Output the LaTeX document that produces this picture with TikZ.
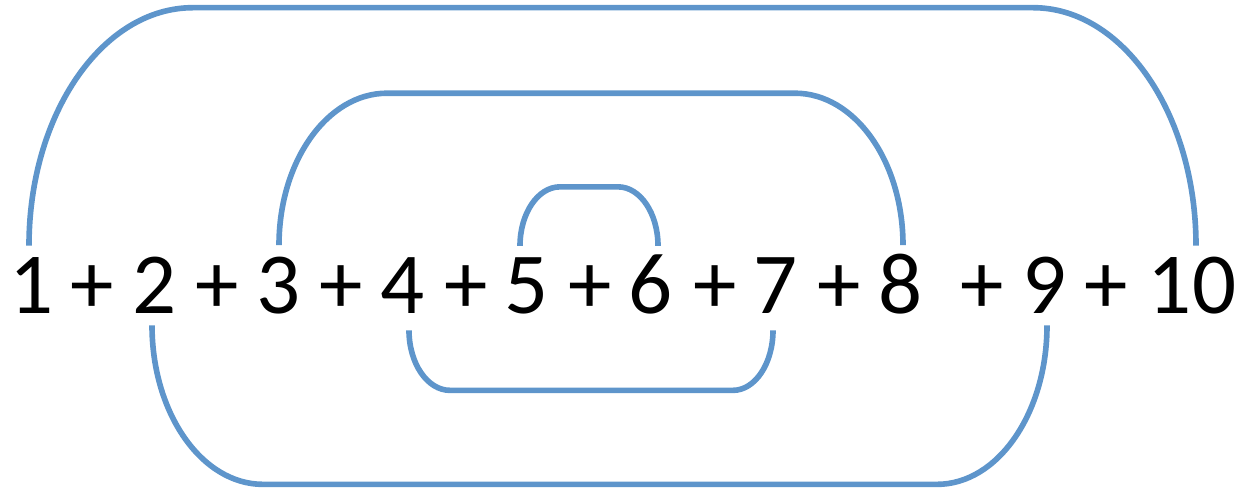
\documentclass[tikz,border=0pt]{standalone}
\usepackage{fontspec}
\setmainfont{Carlito}
\definecolor{LoopBlue}{HTML}{5E95CB}

\begin{document}
\begin{tikzpicture}[
    x=0.02cm,y=0.02cm,
    term/.style={anchor=base, inner sep=0pt,
      font=\fontsize{49.5}{50}\selectfont},
    link/.style={draw=LoopBlue, line width=3.2pt}
  ]
    \useasboundingbox (0,0) rectangle (1240,491);

    \node[term] (d1) at (31.5,178) {1};
    \node[term] (d2) at (154.5,178) {2};
    \node[term] (d3) at (279,178) {3};
    \node[term] (d4) at (403,178) {4};
    \node[term] (d5) at (527,178) {5};
    \node[term] (d6) at (651,178) {6};
    \node[term] (d7) at (776,178) {7};
    \node[term] (d8) at (901,178) {8};
    \node[term] (d9) at (1045,178) {9};
    \node[term] (d10) at (1192,178) {10};

    \foreach \x [count=\i] in {92,217,341,466,590,715,839,982,1106}
      \node[term] (p\i) at (\x,178) {+};

    % pairs above the line
    \draw[link] ([xshift=-0.05cm,yshift=0.22cm]d1.north)
      arc[start angle=180, end angle=90, x radius=164, y radius=238]
      -- ++(840,0)
      arc[start angle=90, end angle=0, x radius=163, y radius=238];
    \draw[link] ([yshift=0.22cm]d3.north)
      arc[start angle=180, end angle=90, x radius=108, y radius=152]
      -- ++(408,0)
      arc[start angle=90, end angle=0, x radius=108, y radius=152];
    \draw[link] ([xshift=-0.14cm,yshift=0.22cm]d5.north)
      arc[start angle=180, end angle=90, x radius=40, y radius=59]
      -- ++(58,0)
      arc[start angle=90, end angle=0, x radius=40, y radius=59];

    % pairs below the line
    \draw[link] ([xshift=-0.05cm,yshift=-0.24cm]d2.south)
      arc[start angle=180, end angle=270, x radius=111, y radius=159]
      -- ++(674,0)
      arc[start angle=270, end angle=360, x radius=110, y radius=159];
    \draw[link] ([xshift=0.12cm,yshift=-0.34cm]d4.south)
      arc[start angle=180, end angle=270, x radius=41, y radius=60]
      -- ++(283,0)
      arc[start angle=270, end angle=360, x radius=40, y radius=60];
  \end{tikzpicture}
\end{document}
